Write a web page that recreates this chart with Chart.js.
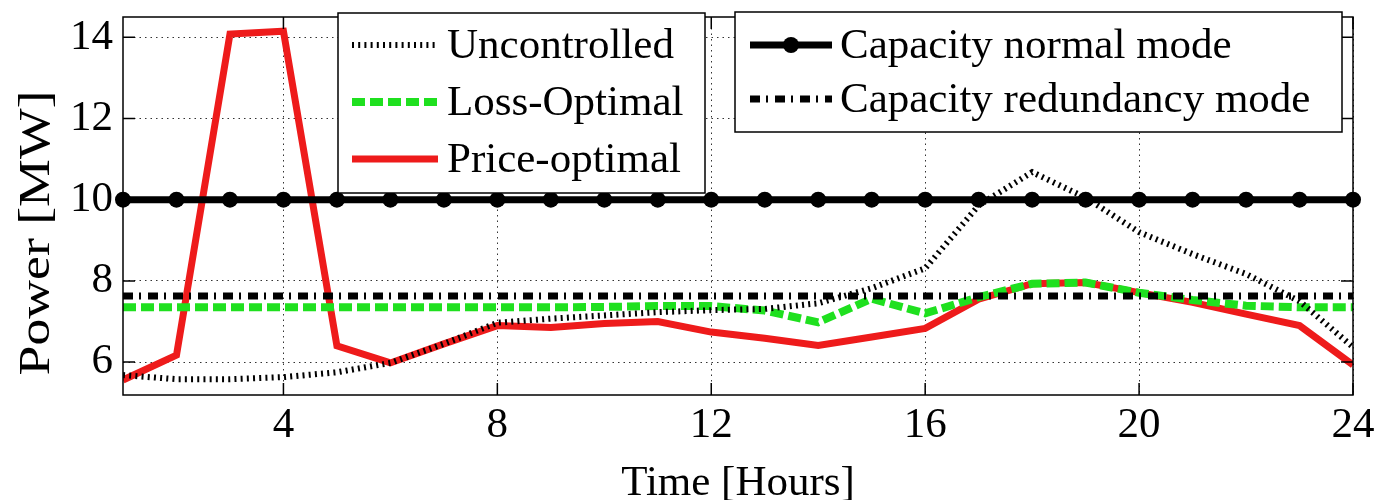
<!DOCTYPE html>
<html>
<head>
<meta charset="utf-8">
<script src="https://cdn.jsdelivr.net/npm/chart.js@4/dist/chart.umd.min.js"></script>
<style>
  html, body { margin: 0; padding: 0; background: #ffffff; }
  #wrap { position: relative; width: 1387px; height: 500px; }
</style>
</head>
<body>
<div id="wrap"><canvas id="c" width="1387" height="500"></canvas></div>
<script>
// ---------------- data ----------------
const hours = [1, 2, 3, 4, 5, 6, 7, 8, 9, 10, 11, 12, 13, 14, 15, 16, 17, 18, 19, 20, 21, 22, 23, 24];
const uncontrolled = [5.68, 5.58, 5.58, 5.63, 5.75, 5.98, 6.45, 6.97, 7.07, 7.15, 7.23, 7.28, 7.31, 7.45, 7.82, 8.31, 9.86, 10.68, 10.05, 9.2, 8.66, 8.17, 7.5, 6.37];
const lossOptimal = [7.35, 7.35, 7.35, 7.35, 7.35, 7.35, 7.35, 7.35, 7.35, 7.36, 7.38, 7.38, 7.27, 6.98, 7.56, 7.2, 7.6, 7.93, 7.96, 7.71, 7.53, 7.39, 7.35, 7.35];
const priceOptimal = [5.56, 6.17, 14.08, 14.15, 6.4, 5.98, 6.45, 6.9, 6.85, 6.95, 7.0, 6.74, 6.59, 6.41, 6.62, 6.83, 7.55, 7.93, 7.96, 7.71, 7.47, 7.18, 6.9, 5.93];
const capacityNormal = [10, 10, 10, 10, 10, 10, 10, 10, 10, 10, 10, 10, 10, 10, 10, 10, 10, 10, 10, 10, 10, 10, 10, 10];
const capacityRedundancy = [7.63, 7.63, 7.63, 7.63, 7.63, 7.63, 7.63, 7.63, 7.63, 7.63, 7.63, 7.63, 7.63, 7.63, 7.63, 7.63, 7.63, 7.63, 7.63, 7.63, 7.63, 7.63, 7.63, 7.63];
const xTicks = [4, 8, 12, 16, 20, 24];
const yTicks = [6, 8, 10, 12, 14];
const seriesNames = ['Uncontrolled', 'Loss-Optimal', 'Price-optimal', 'Capacity normal mode', 'Capacity redundancy mode'];
const xTitle = 'Time [Hours]';
const yTitle = 'Power [MW]';

// ---------------- styling ----------------
const FONT = "'Liberation Serif', 'Times New Roman', serif";
const pts = (ys) => hours.map((h, i) => ({ x: h, y: ys[i] }));
const GRID_DASH = [1.5, 4];

const datasets = [
  { label: seriesNames[3], data: pts(capacityNormal), borderColor: '#000', backgroundColor: '#000',
    borderWidth: 7, pointRadius: 8, pointBackgroundColor: '#000', pointBorderWidth: 0, order: 0, clip: false },
  { label: seriesNames[4], data: pts(capacityRedundancy), borderColor: '#000', borderWidth: 7,
    borderDash: [10, 6, 2, 7], pointRadius: 0, order: 1 },
  { label: seriesNames[0], data: pts(uncontrolled), borderColor: '#000', borderWidth: 6,
    borderDash: [2, 4.2], pointRadius: 0, order: 2 },
  { label: seriesNames[1], data: pts(lossOptimal), borderColor: '#1fe01f', borderWidth: 8,
    borderDash: [13, 5], pointRadius: 0, order: 3 },
  { label: seriesNames[2], data: pts(priceOptimal), borderColor: '#ee1b1b', borderWidth: 7,
    pointRadius: 0, order: 4 }
];

// legend layout (boxes and rows)
const legendBoxes = [
  { box: [338, 13, 705, 193], rows: [[seriesNames[0], 45], [seriesNames[1], 102], [seriesNames[2], 159]], line: [352, 438], text: 447 },
  { box: [735, 12, 1342, 132], rows: [[seriesNames[3], 45], [seriesNames[4], 99]], line: [750, 832], text: 840 }
];

const framePlugin = {
  id: 'frame',
  afterDatasetsDraw(chart) {
    const ctx = chart.ctx, a = chart.chartArea;
    const xs = chart.scales.x, ys = chart.scales.y;
    ctx.save();
    ctx.setLineDash([]);
    ctx.strokeStyle = '#000';
    ctx.lineWidth = 1.5;
    ctx.strokeRect(a.left, a.top, a.right - a.left, a.bottom - a.top);
    const tl = 12;
    ctx.beginPath();
    xTicks.forEach(v => {
      const px = xs.getPixelForValue(v);
      ctx.moveTo(px, a.bottom); ctx.lineTo(px, a.bottom - tl);
      ctx.moveTo(px, a.top); ctx.lineTo(px, a.top + tl);
    });
    yTicks.forEach(v => {
      const py = ys.getPixelForValue(v);
      ctx.moveTo(a.left, py); ctx.lineTo(a.left + tl, py);
      ctx.moveTo(a.right, py); ctx.lineTo(a.right - tl, py);
    });
    ctx.stroke();

    // legends
    legendBoxes.forEach(lb => {
      const [x0, y0, x1, y1] = lb.box;
      ctx.setLineDash([]);
      ctx.fillStyle = '#fff';
      ctx.fillRect(x0, y0, x1 - x0, y1 - y0);
      ctx.strokeStyle = '#000';
      ctx.lineWidth = 1.5;
      ctx.strokeRect(x0, y0, x1 - x0, y1 - y0);
      lb.rows.forEach(([name, yc]) => {
        const ds = chart.data.datasets.find(d => d.label === name);
        ctx.save();
        ctx.strokeStyle = ds.borderColor;
        ctx.lineWidth = ds.borderWidth;
        ctx.lineCap = 'butt';
        ctx.setLineDash(ds.borderDash || []);
        ctx.beginPath();
        ctx.moveTo(lb.line[0], yc); ctx.lineTo(lb.line[1], yc);
        ctx.stroke();
        if (ds.pointRadius > 0) {
          ctx.fillStyle = ds.pointBackgroundColor;
          ctx.beginPath();
          ctx.arc((lb.line[0] + lb.line[1]) / 2, yc, ds.pointRadius, 0, Math.PI * 2);
          ctx.fill();
        }
        ctx.restore();
        ctx.fillStyle = '#000';
        ctx.font = '43px ' + FONT;
        ctx.textBaseline = 'middle';
        ctx.textAlign = 'left';
        ctx.fillText(name, lb.text, yc + 2);
      });
    });

    // y axis title
    ctx.save();
    ctx.translate(37, 233);
    ctx.rotate(-Math.PI / 2);
    ctx.font = '44px ' + FONT;
    ctx.fillStyle = '#000';
    ctx.textAlign = 'center';
    ctx.textBaseline = 'middle';
    const w = ctx.measureText(yTitle).width;
    ctx.scale(285 / w, 1);
    ctx.fillText(yTitle, 0, 0);
    ctx.restore();
    ctx.restore();
  }
};

new Chart(document.getElementById('c'), {
  type: 'line',
  data: { datasets },
  options: {
    responsive: false,
    animation: false,
    devicePixelRatio: 1,
    layout: { padding: { top: 17, right: 34, left: 0, bottom: 0 } },
    elements: { line: { tension: 0, borderCapStyle: 'butt', borderJoinStyle: 'miter' } },
    plugins: { legend: { display: false }, tooltip: { enabled: false } },
    scales: {
      x: {
        type: 'linear', min: 1, max: 24,
        afterBuildTicks: s => { s.ticks = xTicks.map(v => ({ value: v })); },
        afterFit: s => { s.height = 105; s.paddingLeft = 0; s.paddingRight = 0; },
        grid: { color: '#333', lineWidth: 1, drawTicks: false },
        border: { display: false, dash: GRID_DASH },
        ticks: { color: '#000', padding: 5, font: { family: FONT, size: 43 }, maxRotation: 0 },
        title: { display: true, text: xTitle, color: '#000', font: { family: FONT, size: 43, lineHeight: 0.75 }, padding: { top: 0, bottom: 0 } }
      },
      y: {
        type: 'linear', min: 5.19, max: 14.5,
        afterBuildTicks: s => { s.ticks = yTicks.map(v => ({ value: v })); },
        afterFit: s => { s.width = 123; s.paddingTop = 0; s.paddingBottom = 0; },
        grid: { color: '#333', lineWidth: 1, drawTicks: false },
        border: { display: false, dash: GRID_DASH },
        ticks: { color: '#000', padding: 10, font: { family: FONT, size: 43 } }
      }
    }
  },
  plugins: [framePlugin]
});
</script>
</body>
</html>
